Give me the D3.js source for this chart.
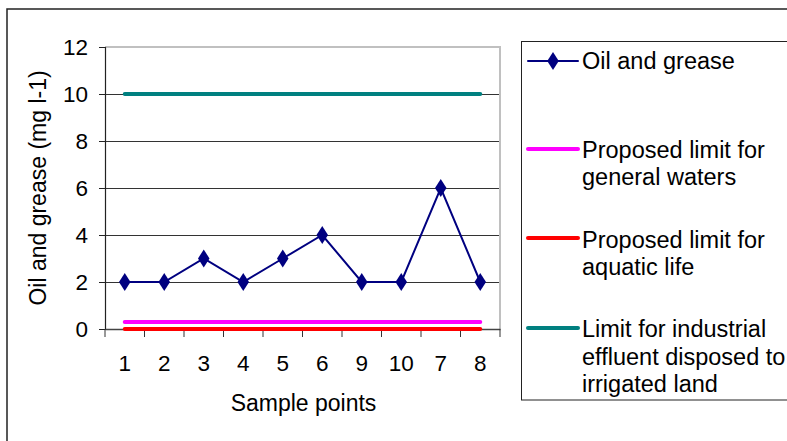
<!DOCTYPE html>
<html>
<head>
<meta charset="utf-8">
<script src="https://cdn.jsdelivr.net/npm/d3@7/dist/d3.min.js"></script>
<style>
  html, body { margin: 0; padding: 0; background: #fff; }
  svg { display: block; font-family: Arial, "Liberation Sans", sans-serif; }
</style>
</head>
<body>
<svg id="chart" width="787" height="441"></svg>
<script>
// ---- data ----
const categories = ["1", "2", "3", "4", "5", "6", "9", "10", "7", "8"];
const oilGrease = [2, 2, 3, 2, 3, 4, 2, 2, 6, 2];
const limitGeneral = [0.3, 0.3, 0.3, 0.3, 0.3, 0.3, 0.3, 0.3, 0.3, 0.3];
const limitAquatic = [0, 0, 0, 0, 0, 0, 0, 0, 0, 0];
const limitIrrigated = [10, 10, 10, 10, 10, 10, 10, 10, 10, 10];
const yTicks = [0, 2, 4, 6, 8, 10, 12];
const yTitle = "Oil and grease (mg l-1)";
const xTitle = "Sample points";
const legendItems = [
  { lines: ["Oil and grease"], color: "#000080", width: 2, marker: true },
  { lines: ["Proposed limit for", "general waters"], color: "#ff00ff", width: 4, marker: false },
  { lines: ["Proposed limit for", "aquatic life"], color: "#ff0000", width: 4, marker: false },
  { lines: ["Limit for industrial", "effluent disposed to", "irrigated land"], color: "#008080", width: 4, marker: false }
];

// ---- layout ----
const svg = d3.select("#chart");
const plot = { left: 105, right: 500, top: 47, bottom: 329 };

const x = d3.scaleBand().domain(categories).range([plot.left, plot.right]).padding(0);
const y = d3.scaleLinear().domain([0, 12]).range([plot.bottom, plot.top]);
const cx = d => x(d) + x.bandwidth() / 2;

// outer border
svg.append("rect").attr("x", 7).attr("y", 9).attr("width", 800).attr("height", 450)
  .attr("fill", "#fff").attr("stroke", "#222").attr("stroke-width", 1.5);

// gridlines
svg.append("g").selectAll("line").data(yTicks.filter(t => t > 0 && t < 12)).join("line")
  .attr("x1", plot.left).attr("x2", plot.right)
  .attr("y1", d => Math.round(y(d)) + 0.5).attr("y2", d => Math.round(y(d)) + 0.5)
  .attr("stroke", "#333").attr("stroke-width", 1);

// plot area border top/right (gray)
svg.append("path")
  .attr("d", `M${plot.left},${plot.top} H${plot.right} V${plot.bottom}`)
  .attr("fill", "none").attr("stroke", "#c0c0c0").attr("stroke-width", 2);

// y axis
const yAxis = d3.axisLeft(y).tickValues(yTicks).tickSize(6).tickPadding(11).tickFormat(d3.format("d"));
const gy = svg.append("g").attr("transform", `translate(${plot.left},0)`).call(yAxis);
gy.select(".domain").attr("stroke", "#222").attr("stroke-width", 1.2);
gy.selectAll(".tick line").attr("stroke", "#222");
gy.selectAll(".tick text").attr("font-size", 22.5).attr("fill", "#000")
  .attr("font-family", "Arial, 'Liberation Sans', sans-serif");

// x axis
const xAxis = d3.axisBottom(x).tickSize(0).tickPadding(0);
const gx = svg.append("g").attr("transform", `translate(0,${plot.bottom})`).call(xAxis);
gx.select(".domain").attr("stroke", "#444").attr("stroke-width", 1.5);
gx.selectAll(".tick text").attr("font-size", 22.5).attr("fill", "#000")
  .attr("font-family", "Arial, 'Liberation Sans', sans-serif")
  .attr("dy", null).attr("y", 42);
// tick marks at category boundaries
const bounds = categories.map(c => x(c)).concat([plot.right]);
svg.append("g").selectAll("line").data(bounds).join("line")
  .attr("x1", d => d).attr("x2", d => d)
  .attr("y1", plot.bottom).attr("y2", plot.bottom + 8)
  .attr("stroke", "#333").attr("stroke-width", 1);

// limit lines
const lineGen = d3.line().x((d, i) => cx(categories[i])).y(d => y(d));
[[limitGeneral, "#ff00ff"], [limitAquatic, "#ff0000"], [limitIrrigated, "#008080"]].forEach(([vals, col]) => {
  svg.append("path").datum(vals).attr("d", lineGen)
    .attr("fill", "none").attr("stroke", col).attr("stroke-width", 4).attr("stroke-linecap", "round");
});

// oil & grease series
svg.append("path").datum(oilGrease).attr("d", lineGen)
  .attr("fill", "none").attr("stroke", "#000080").attr("stroke-width", 2);
const diamond = d3.symbol().type(d3.symbolDiamond).size(95);
svg.append("g").selectAll("path").data(oilGrease).join("path")
  .attr("d", diamond)
  .attr("transform", (d, i) => `translate(${cx(categories[i])},${y(d)}) scale(1.1,1)`)
  .attr("fill", "#000080");

// axis titles
svg.append("text").attr("x", (plot.left + plot.right) / 2 + 1).attr("y", 411)
  .attr("text-anchor", "middle").attr("font-size", 23).attr("fill", "#000").text(xTitle);
svg.append("text").attr("transform", `translate(46,188) rotate(-90)`)
  .attr("text-anchor", "middle").attr("font-size", 23).attr("fill", "#000").text(yTitle);

// legend
svg.append("rect").attr("x", 521.5).attr("y", 41.5).attr("width", 300).attr("height", 358.5)
  .attr("fill", "#fff").attr("stroke", "#222").attr("stroke-width", 1);
const lineYs = [61, 149, 238, 328];
const textYs = [[61], [150, 177], [240, 267], [329, 357, 384]];
const fs = 23.5;
legendItems.forEach((it, i) => {
  const ly = lineYs[i];
  svg.append("line").attr("x1", 528).attr("x2", 578).attr("y1", ly).attr("y2", ly)
    .attr("stroke", it.color).attr("stroke-width", it.width).attr("stroke-linecap", "round");
  if (it.marker) {
    svg.append("path").attr("d", diamond).attr("transform", `translate(553,${ly}) scale(1.1,1)`).attr("fill", it.color);
  }
  it.lines.forEach((t, j) => {
    svg.append("text").attr("x", 582).attr("y", textYs[i][j] + 0.358 * fs)
      .attr("font-size", fs).attr("fill", "#000").text(t);
  });
});
</script>
</body>
</html>
